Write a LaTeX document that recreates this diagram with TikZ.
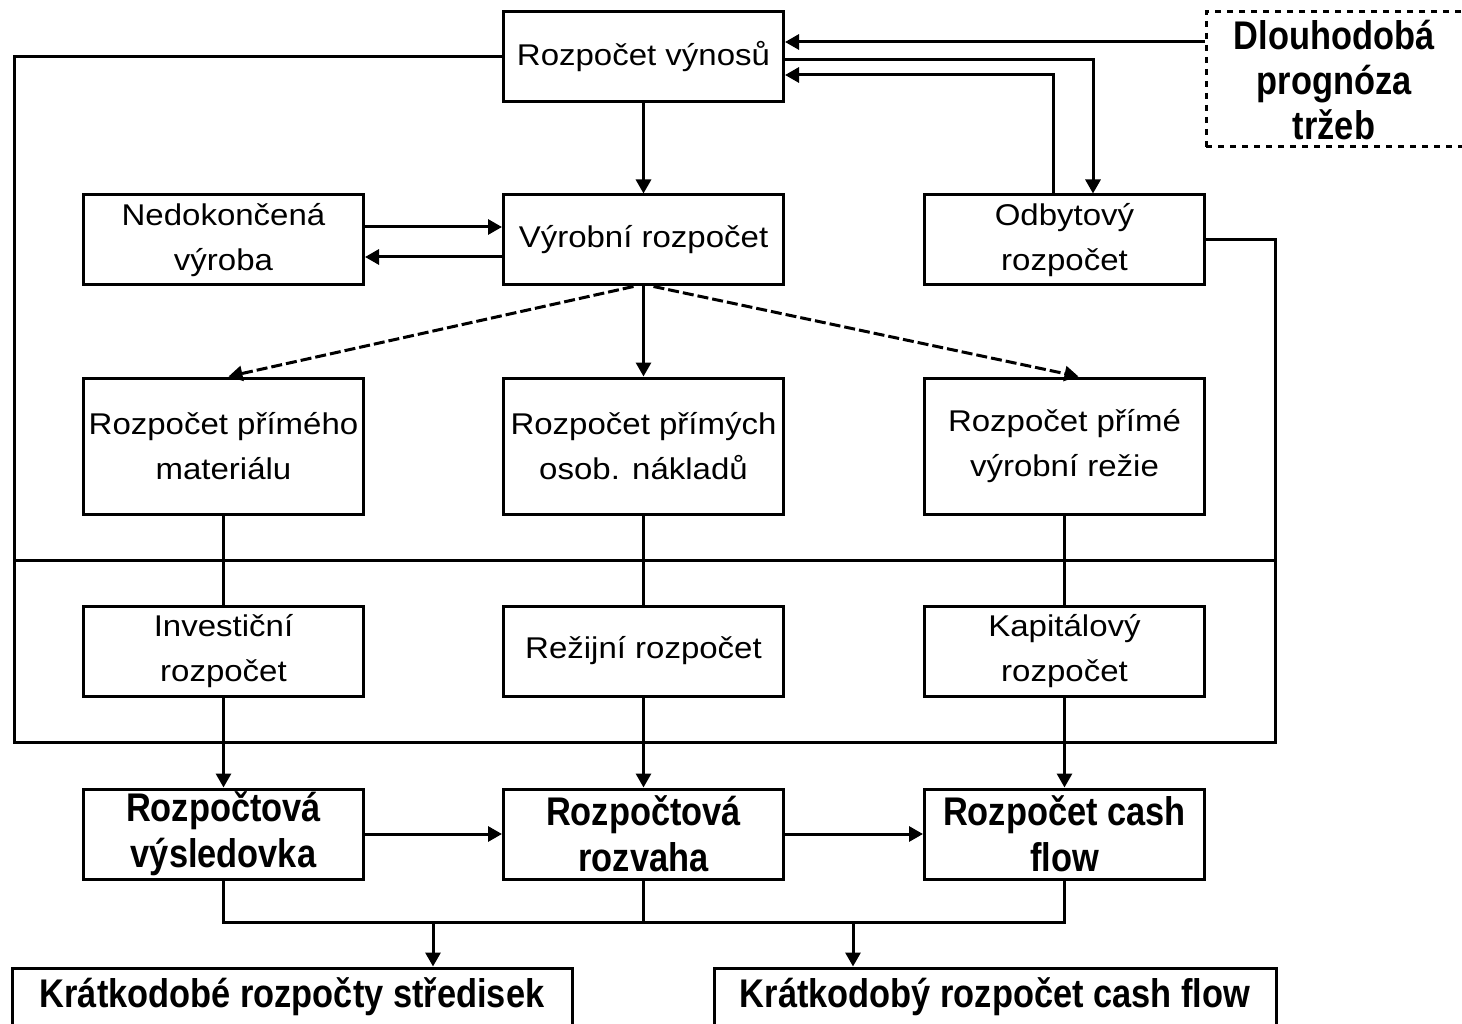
\documentclass[tikz,border=0pt]{standalone}
\usepackage{fontspec}
\setmainfont{Liberation Sans}
\newfontfamily\regf[FakeStretch=1.1]{Liberation Sans}
\newfontfamily\boldf[FakeStretch=0.86]{Liberation Sans Bold}
\usetikzlibrary{arrows.meta}
\begin{document}
\begin{tikzpicture}[x=1pt,y=-1pt,
  line width=3pt,
  box/.style={draw, line width=3pt, minimum width=280pt, minimum height=90pt, inner sep=0pt, align=center,
     font={\regf\fontsize{30}{45}\selectfont}},
  tallbox/.style={box, minimum height=136pt},
  boldbox/.style={box, font={\boldf\fontsize{40}{46}\selectfont}},
  dashbox/.style={draw, line width=3pt, dash pattern=on 6pt off 6pt, inner sep=0pt},
  arr/.style={-{Triangle[width=15pt,length=14pt]}, line width=3pt},
  darr/.style={arr, dash pattern=on 11pt off 4pt}]
\useasboundingbox (0,0) rectangle (1462,1024);
\fill[white] (0,0) rectangle (1462,1024);

% row 1
\node[box] (rv) at (643.5,57) {Rozpočet výnosů};
\node[dashbox, minimum width=270pt, minimum height=135pt] (dl) at (1341,79.5) {};
\node[align=center, inner sep=0pt, font={\boldf\fontsize{40}{45}\selectfont}] (dlt) at (1334,80) {Dlouhodobá\\prognóza\\tržeb};

% row 2
\node[box] (nv) at (223.5,240) {Nedokončená\\výroba};
\node[box] (vr) at (643.5,240) {Výrobní rozpočet};
\node[box] (od) at (1064.5,240) {Odbytový\\rozpočet};

% row 3
\node[tallbox] (m1) at (223.5,446) {Rozpočet přímého\\materiálu};
\node[tallbox] (m2) at (643.5,446) {Rozpočet přímých\\osob. nákladů};
\node[tallbox] (m3) at (1064.5,446) {Rozpočet přímé\\výrobní režie};

% row 4
\node[box] (i1) at (223.5,651) {Investiční\\rozpočet};
\node[box] (i2) at (643.5,651) {Režijní rozpočet};
\node[box] (i3) at (1064.5,651) {Kapitálový\\rozpočet};

% row 5
\node[boldbox] (b1) at (223.5,834) {Rozpočtová\\výsledovka};
\node[boldbox] (b2) at (643.5,834) {Rozpočtová\\rozvaha};
\node[boldbox] (b3) at (1064.5,834) {Rozpočet cash\\flow};

% bottom
\node[boldbox, minimum width=560pt, minimum height=58pt] (k1) at (292,997) {Krátkodobé rozpočty středisek};
\node[boldbox, minimum width=562pt, minimum height=58pt] (k2) at (995,997) {Krátkodobý rozpočet cash flow};

% connectors top
\draw[arr] (dl.west |- 0,42) -- (rv.east |- 0,42);
\draw[arr] (rv.east |- 0,60) -| (od.north -| 1093,0);
\draw[arr] (od.north -| 1053,0) |- (rv.east |- 0,75);
\draw[arr] (rv.south) -- (vr.north);

% big loop
\coordinate (lb) at (14,742);
\coordinate (rb) at (1275,742);
\draw (rv.west) -| (lb) -- (rb) |- (od.east);
\draw (14,560) -- (1275,560);

% nedokoncena
\draw[arr] (nv.east |- 0,227) -- (vr.west |- 0,227);
\draw[arr] (vr.west |- 0,257) -- (nv.east |- 0,257);

% from vyrobni
\draw[darr] ([xshift=-10pt]vr.south) -- ([xshift=5pt]m1.north);
\draw[arr] (vr.south) -- (m2.north);
\draw[darr] ([xshift=10pt]vr.south) -- ([xshift=14pt]m3.north);

% row3 -> row4
\draw (m1.south) -- (i1.north);
\draw (m2.south) -- (i2.north);
\draw (m3.south) -- (i3.north);

% row4 -> row5
\draw[arr] (i1.south) -- (b1.north);
\draw[arr] (i2.south) -- (b2.north);
\draw[arr] (i3.south) -- (b3.north);

% row5 horizontal
\draw[arr] (b1.east) -- (b2.west);
\draw[arr] (b2.east) -- (b3.west);

% bottom merge
\coordinate (j1) at (433,922);
\coordinate (j2) at (853,922);
\draw (b1.south) |- (j1) -- (j2) -| (b3.south);
\draw (b2.south) -- (b2.south |- j1);
\draw[arr] (j1) -- (k1.north -| j1);
\draw[arr] (j2) -- (k2.north -| j2);
\end{tikzpicture}
\end{document}
